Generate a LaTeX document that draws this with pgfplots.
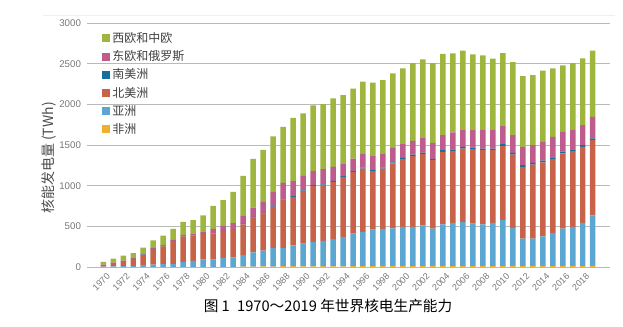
\documentclass[border=0pt]{standalone}
\usepackage{fontspec}
\setmainfont{Liberation Sans}
\newfontfamily\cjk{Noto Sans CJK SC}
\usepackage{pgfplots}
\pgfplotsset{compat=1.18}
\usepackage{pgfplotstable}

\definecolor{cAf}{RGB}{240,175,45}
\definecolor{cAs}{RGB}{92,167,210}
\definecolor{cNA}{RGB}{200,98,72}
\definecolor{cSA}{RGB}{22,110,160}
\definecolor{cEE}{RGB}{190,92,142}
\definecolor{cWE}{RGB}{158,182,62}
\definecolor{tickgray}{RGB}{120,120,120}

\pgfplotstableread{
year af as na sa ee we
1970 0 4 21 0 3 34
1971 0 8 42 0 5 48
1972 0 10 65 0 5 60
1973 0 12 88 0 8 64
1974 0 22 128 1 9 78
1975 0 30 190 2 13 93
1976 0 38 217 2 13 116
1977 0 35 285 2 13 133
1978 0 60 318 2 15 159
1979 0 75 310 2 18 170
1980 0 90 315 2 23 206
1981 0 92 318 3 55 283
1982 0 112 328 3 62 316
1983 0 118 334 4 82 386
1984 5 140 380 6 97 493
1985 5 175 428 8 115 599
1986 9 191 457 8 135 641
1987 6 229 504 8 177 681
1988 10 225 586 9 204 690
1989 11 254 597 10 183 780
1990 8 280 644 10 179 767
1991 9 301 688 10 174 805
1992 10 310 686 10 187 800
1993 8 335 704 11 174 841
1994 9 360 739 10 155 841
1995 11 399 760 10 154 858
1996 12 419 780 10 166 891
1997 12 448 718 12 173 903
1998 14 456 741 12 173 903
1999 13 462 798 12 181 915
2000 13 480 833 15 178 923
2001 11 482 870 20 169 956
2002 12 501 875 18 187 960
2003 13 459 842 17 196 981
2004 14 511 891 20 185 998
2005 12 530 886 17 209 973
2006 10 544 903 20 214 969
2007 12 522 915 19 223 924
2008 13 512 912 20 226 920
2009 12 530 895 20 226 878
2010 12 563 915 22 220 899
2011 13 467 903 21 217 899
2012 12 337 883 22 224 870
2013 14 335 911 20 218 862
2014 14 364 907 22 232 875
2015 11 408 907 22 253 841
2016 15 457 924 22 244 817
2017 15 478 931 21 246 817
2018 10 532 936 21 246 821
2019 13 623 924 22 265 813
}\data

\begin{document}
\begin{tikzpicture}
\path[use as bounding box] (0pt,0pt) rectangle (467.25pt,244.5pt);
\draw[gray!12, line width=0.5pt] (32pt,233.25pt) -- (461.25pt,233.25pt);
\begin{axis}[
  at={(65.25pt,44.25pt)}, anchor=south west,
  scale only axis, width=392.25pt, height=183pt,
  xmin=1968.37, xmax=2020.73, ymin=0, ymax=3000,
  axis line style={draw=none},
  ymajorgrids, grid style={gray!55, line width=0.6pt},
  major tick length=0pt,
  xtick={1970,1972,...,2018},
  ytick={0,500,...,3000},
  /pgf/number format/1000 sep={},
  /pgf/number format/assume math mode=true,
  xticklabel style={rotate=45, anchor=north east, font=\fontsize{6.8}{8}\selectfont, text=tickgray, yshift=-1pt, xshift=2pt},
  yticklabel style={font=\fontsize{7.3}{8}\selectfont, text=tickgray, xshift=-1pt},
  ybar stacked, bar width=0.55,
  reverse legend,
  legend style={at={(0.02,0.985)}, anchor=north west, draw=none, fill=none,
    font=\cjk\fontsize{9}{10}\selectfont, text=black!75, row sep=0.6pt,
    cells={anchor=west}},
  legend image code/.code={\fill[#1] (0pt,-3pt) rectangle (6pt,3pt);},
]
\addplot[fill=cAf, draw=none] table[x=year,y=af]{\data};
\addplot[fill=cAs, draw=none] table[x=year,y=as]{\data};
\addplot[fill=cNA, draw=none] table[x=year,y=na]{\data};
\addplot[fill=cSA, draw=none] table[x=year,y=sa]{\data};
\addplot[fill=cEE, draw=none] table[x=year,y=ee]{\data};
\addplot[fill=cWE, draw=none] table[x=year,y=we]{\data};
\legend{非洲,亚洲,北美洲,南美洲,东欧和俄罗斯,西欧和中欧}
\end{axis}
\node[rotate=90, font=\cjk\fontsize{10.5}{12}\selectfont, text=black!70] at (37pt,126pt) {核能发电量 (TWh)};
\node[font=\cjk\fontsize{11}{12}\selectfont] at (246pt,15pt) {图 1\enspace 1970～2019 年世界核电生产能力};
\end{tikzpicture}
\end{document}
